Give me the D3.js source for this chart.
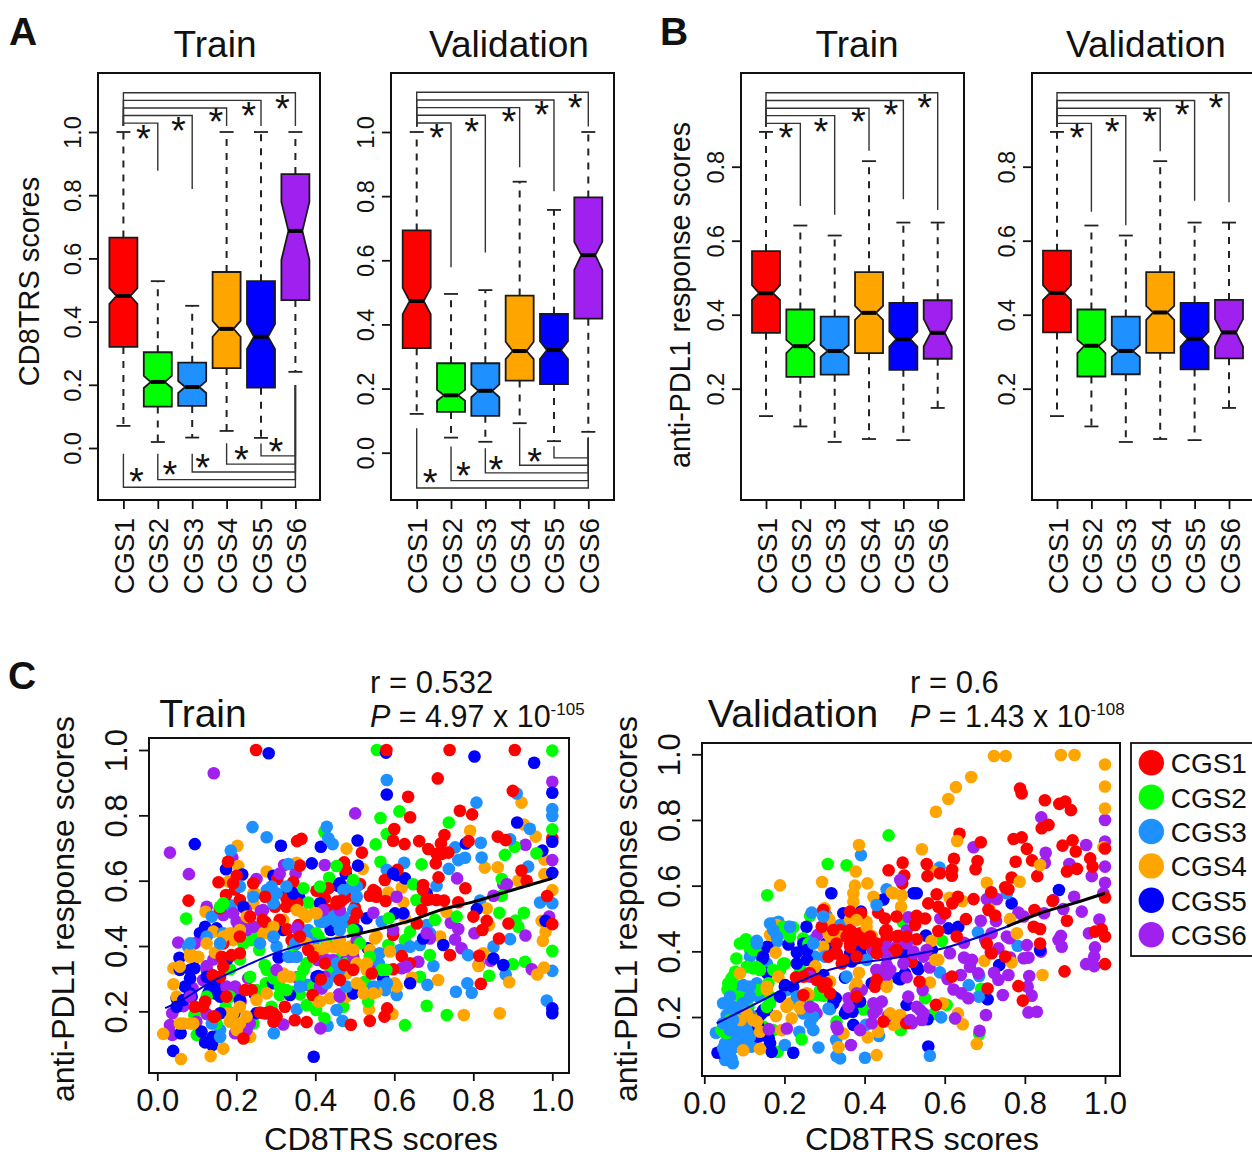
<!DOCTYPE html>
<html><head><meta charset="utf-8">
<script src="https://cdn.jsdelivr.net/npm/d3@7"></script>
<style>html,body{margin:0;padding:0;background:#fff;overflow:hidden}text{font-family:"Liberation Sans",Arial,sans-serif;fill:#111}</style>
</head><body><div id="chart"></div>
<script>
// ---------- data ----------
const categories=["CGS1","CGS2","CGS3","CGS4","CGS5","CGS6"];
const colors=["#FF0000","#00FF00","#1E90FF","#FFA500","#0000FF","#A020F0"];
// [whisker low, q1, notch low, median, notch high, q3, whisker high]
const boxATrain=[[.07,.32,.456,.481,.506,.666,1],[.019,.131,.19,.209,.228,.303,.528],[.033,.133,.174,.193,.212,.27,.45],[.054,.253,.352,.377,.402,.557,1],[.032,.191,.313,.352,.392,.528,1],[.241,.468,.595,.687,.779,.867,1]];
const boxAVal=[[.121,.326,.432,.473,.514,.693,1],[.047,.127,.162,.179,.196,.279,.495],[.034,.115,.173,.193,.213,.279,.507],[.092,.225,.292,.317,.346,.49,.845],[.036,.214,.292,.32,.348,.433,.757],[.065,.418,.57,.616,.658,.796,1]];
const boxBTrain=[[.126,.351,.44,.458,.48,.572,.894],[.098,.232,.296,.315,.332,.414,.641],[.056,.238,.286,.302,.318,.395,.614],[.064,.296,.386,.405,.424,.515,.815],[.061,.251,.314,.334,.354,.432,.649],[.148,.281,.314,.351,.388,.439,.649]];
const boxBVal=[[.126,.352,.44,.459,.48,.573,.894],[.098,.233,.296,.316,.332,.414,.641],[.056,.239,.286,.302,.318,.395,.614],[.064,.297,.386,.406,.424,.515,.815],[.061,.252,.314,.335,.354,.432,.649],[.148,.282,.314,.352,.388,.44,.649]];
// significance brackets: upper level and lower end per compared group
const topLevelsA=[1.028,1.052,1.076,1.1,1.124];
const topLevelsB=[.917,.938,.958,.979,1];
const topEndsATrain=[.877,.82,1.019,1.019,1.019];
const topEndsAVal=[.578,.624,.89,.815,1.017];
const topEndsBTrain=[.694,.67,.843,.712,.683];
const topEndsBVal=[.678,.642,.842,.708,.704];
const botLevelsATrain=[-.124,-.1,-.076,-.051,-.025];
const botStartsATrain=[-.018,-.018,-.018,.015,.014,.199];
const botLevelsAVal=[-.11,-.087,-.063,-.039,-.016];
const botStartsAVal=[.076,.019,.014,.078,.02,.047];
const starTopX=[1.58,2.6,3.69,4.64,5.62];
const starTopYATrain=[.994,1.019,1.046,1.067,1.089];
const starTopYAVal=[.996,1.015,1.047,1.069,1.09];
const starTopYB=[.89,.906,.934,.953,.971];
const starBotXATrain=[1.375,2.355,3.305,4.43,5.43];
const starBotYATrain=[-.091,-.071,-.048,-.022,.004];
const starBotXAVal=[1.39,2.36,3.31,4.44];
const starBotYAVal=[-.078,-.057,-.038,-.012];
const tickA=[0,.2,.4,.6,.8,1];
const tickB=[.2,.4,.6,.8];
const tickCx=[0,.2,.4,.6,.8,1];
const tickCy=[.2,.4,.6,.8,1];
const legendLabels=categories;

const trainCGS1=[[.25,1],[.58,1],[.74,1],[.905,1],[.71,.913],[.635,.857],[.9,.875],[1,.73],[.766,.814],[.797,.803],[.64,.794],[.6,.758],[.597,.722],[.626,.712],[.663,.721],[.686,.697],[.727,.74],[.718,.714],[.72,.682],[.737,.686],[.788,.721],[.862,.735],[.882,.724],[.365,.728],[.354,.721],[.518,.686],[.473,.656],[.477,.633],[.705,.653],[.712,.61],[.922,.631],[.935,.6],[.78,.577],[.576,.602],[.608,.633],[.513,.59],[.361,.646],[.344,.595],[.304,.605],[.281,.563],[.155,.595],[.179,.658],[.201,.615],[.197,.573],[.174,.556],[.079,.539],[.209,.541],[.158,.515],[.327,.546],[.298,.52],[.327,.52],[.354,.531],[.403,.569],[.433,.577],[.424,.546],[.454,.536],[.477,.549],[.433,.51],[.5,.518],[.496,.477],[.538,.554],[.553,.566],[.578,.538],[.673,.587],[.672,.573],[.69,.543],[.726,.539],[.762,.534],[.669,.51],[.657,.469],[.8,.49],[.834,.477],[.823,.449],[.889,.469],[.865,.423],[.815,.37],[.741,.372],[.819,.284],[1,.467],[.987,.553],[.597,.434],[.619,.369],[.64,.347],[.597,.329],[.31,.48],[.329,.451],[.357,.464],[.34,.418],[.273,.474],[.209,.378],[.167,.408],[.163,.367],[.167,.337],[.14,.311],[.382,.388],[.473,.342],[.414,.298],[.393,.25],[.543,.316],[.222,.265],[.26,.196],[.294,.194],[.323,.214],[.348,.173],[.378,.167],[.49,.159],[.538,.171],[.575,.184],[.582,.209],[.218,.117],[.294,.168],[.121,.23],[.095,.214],[.146,.184],[.175,.245],[.454,.529],[.467,.539],[.505,.5],[.547,.571],[.555,.551],[.188,.372],[.159,.306],[.239,.265],[.285,.199],[.302,.184],[.272,.194],[.116,.214],[.142,.184],[.209,.429],[.235,.49],[.267,.48],[.273,.551],[.243,.592],[.192,.592],[.682,.541],[.707,.541],[.707,.682],[.361,.429],[.395,.367],[.424,.347],[.462,.296],[.496,.327]];
const trainCGS2=[[.556,1],[1,.998],[.613,.812],[.565,.792],[.423,.75],[.581,.743],[.553,.711],[.738,.778],[.565,.658],[.669,.65],[1,.757],[.905,.704],[.88,.679],[.96,.684],[.872,.605],[.872,.554],[.866,.502],[.928,.502],[.914,.459],[.907,.478],[1,.385],[.931,.352],[.9,.344],[.84,.309],[.665,.306],[.682,.217],[.733,.189],[.627,.158],[.073,.484],[.053,.332],[.094,.189],[.1,.128],[.173,.214],[.209,.359],[.258,.388],[.184,.329],[.239,.418],[.247,.429],[.272,.342],[.275,.286],[.31,.25],[.34,.26],[.361,.252],[.378,.219],[.402,.204],[.423,.179],[.471,.214],[.37,.327],[.441,.324],[.467,.367],[.408,.429],[.382,.533],[.435,.609],[.454,.645],[.586,.485],[.585,.403],[.627,.418],[.69,.372],[.64,.444],[.703,.48],[.758,.49],[.648,.589],[.656,.541],[.526,.291],[.496,.255],[.568,.327],[.538,.367],[.534,.23],[.15,.163],[.243,.163],[.289,.214],[.167,.531],[.277,.327],[.294,.301],[.31,.276],[.327,.265],[.361,.306],[.395,.276],[.378,.347],[.344,.398],[.402,.439],[.429,.408],[.496,.449],[.479,.347],[.513,.408],[.58,.327],[.218,.408],[.235,.306],[.251,.265],[.184,.245],[.125,.245],[.159,.52],[.37,.577],[.412,.582],[.496,.602]];
const trainCGS3=[[.581,.908],[.808,.839],[1,.819],[1,.798],[.91,.867],[.943,.759],[.241,.764],[.277,.733],[.186,.692],[.429,.765],[.433,.73],[.444,.712],[.819,.716],[.754,.702],[.762,.663],[.779,.67],[.821,.671],[.738,.636],[.939,.643],[.893,.727],[.625,.655],[.581,.633],[.707,.584],[1,.531],[.969,.533],[.817,.539],[.893,.421],[.851,.398],[1,.324],[.882,.313],[.787,.372],[.699,.339],[.684,.281],[.785,.286],[.756,.26],[.796,.257],[.986,.233],[.295,.133],[.431,.156],[.469,.171],[.353,.206],[.159,.143],[.078,.398],[.138,.49],[.186,.525],[.289,.582],[.332,.651],[.505,.582],[.496,.551],[.42,.474],[.454,.474],[.479,.474],[.462,.449],[.568,.474],[.682,.464],[.69,.439],[.64,.398],[.665,.403],[.614,.388],[.563,.378],[.561,.347],[.378,.281],[.39,.281],[.454,.306],[.563,.276],[.606,.25],[.577,.265],[.302,.398],[.349,.367],[.382,.449],[.226,.459],[.285,.551],[.454,.204],[.167,.439],[.412,.474],[.429,.48],[.445,.49],[.471,.49],[.496,.51],[.505,.551],[.488,.582],[.471,.571],[.277,.571],[.302,.561],[.327,.582],[.294,.531],[.353,.367],[.332,.367],[.349,.408],[.378,.429],[.395,.408],[.462,.327],[.454,.347],[.429,.286],[.479,.276],[.547,.276],[.581,.286],[.361,.276],[.159,.408],[.125,.429],[.083,.408],[.159,.122],[.138,.163],[.26,.408],[.294,.429],[.243,.551],[.209,.582]];
const trainCGS4=[[.922,.839],[.928,.772],[.958,.735],[.792,.753],[.203,.707],[.479,.698],[.98,.665],[.98,.62],[.829,.64],[.862,.641],[.914,.6],[.52,.636],[.353,.655],[.277,.628],[.205,.645],[.18,.597],[.243,.561],[.243,.531],[.122,.505],[.37,.5],[.399,.505],[.585,.564],[.619,.579],[.623,.533],[.627,.485],[.732,.505],[.834,.515],[.973,.477],[1,.571],[.983,.444],[.976,.416],[.84,.464],[.716,.429],[.825,.378],[.813,.339],[.979,.334],[.962,.313],[.891,.289],[.644,.303],[.711,.296],[.776,.189],[.867,.194],[.595,.192],[.536,.206],[.538,.388],[.551,.423],[.462,.418],[.488,.398],[.496,.367],[.42,.388],[.445,.398],[.268,.439],[.285,.449],[.142,.444],[.175,.429],[.192,.418],[.083,.378],[.104,.367],[.146,.38],[.041,.332],[.041,.283],[.049,.245],[.057,.163],[.015,.131],[.06,.054],[.135,.063],[.167,.086],[.222,.163],[.235,.122],[.184,.168],[.175,.194],[.091,.163],[.408,.23],[.437,.24],[.479,.245],[.513,.276],[.555,.26],[.606,.276],[.601,.286],[.319,.316],[.479,.316],[.319,.48],[.53,.347],[.589,.383],[.455,.398],[.471,.388],[.496,.388],[.505,.347],[.479,.327],[.429,.398],[.403,.388],[.378,.408],[.53,.327],[.555,.429],[.184,.439],[.159,.408],[.167,.429],[.209,.449],[.247,.561],[.226,.49],[.281,.439],[.294,.459],[.125,.408],[.083,.367],[.057,.337],[.066,.163],[.083,.163],[.184,.173],[.209,.163],[.201,.143],[.226,.184],[.209,.214],[.192,.194],[.505,.286],[.522,.255],[.547,.255],[.412,.23],[.403,.5],[.378,.49],[.353,.51],[.319,.306],[.336,.306],[.277,.255],[.251,.235]];
const trainCGS5=[[.282,.99],[.579,.992],[.803,.98],[.954,.961],[1,.869],[.581,.864],[.911,.778],[.095,.712],[.313,.707],[.414,.704],[.507,.723],[1,.719],[.975,.692],[.781,.714],[.391,.653],[.508,.646],[1,.624],[.174,.635],[.215,.619],[.294,.615],[.477,.622],[.606,.617],[.627,.607],[.458,.584],[.327,.563],[.359,.551],[.418,.52],[.53,.485],[.809,.513],[.983,.477],[.15,.454],[.121,.459],[.108,.439],[.439,.449],[.602,.5],[.682,.561],[.724,.403],[.876,.342],[.851,.362],[1,.209],[1,.194],[.533,.393],[.307,.365],[.178,.361],[.056,.364],[.094,.332],[.083,.301],[.07,.276],[.049,.24],[.087,.245],[.142,.27],[.146,.255],[.159,.245],[.247,.252],[.195,.194],[.112,.138],[.14,.122],[.139,.097],[.121,.105],[.059,.133],[.04,.079],[.396,.061],[.408,.308],[.572,.301],[.64,.286],[.336,.25],[.293,.286],[.133,.265],[.15,.276],[.137,.286],[.066,.235],[.049,.214],[.083,.255],[.129,.255],[.159,.194],[.218,.52],[.294,.429],[.319,.449],[.344,.561],[.412,.531],[.462,.592],[.505,.449],[.623,.5],[.673,.423],[.597,.622],[.496,.255],[.403,.306],[.277,.194],[.251,.194],[.209,.235],[.125,.306],[.083,.327],[.057,.327]];
const trainCGS6=[[.143,.929],[1,.903],[.501,.806],[.032,.686],[.08,.62],[.932,.71],[1,.663],[.19,.67],[.251,.605],[.321,.648],[.35,.622],[.424,.648],[.759,.607],[.876,.589],[.885,.589],[.851,.554],[.125,.52],[.167,.495],[.224,.512],[.262,.507],[.201,.474],[.201,.442],[.251,.449],[.992,.49],[.743,.471],[.762,.452],[.803,.439],[.754,.42],[.77,.393],[.932,.432],[.844,.355],[.814,.342],[.948,.329],[.053,.411],[.095,.408],[.121,.418],[.142,.359],[.125,.339],[.089,.272],[.066,.216],[.038,.194],[.032,.158],[.038,.128],[.125,.192],[.099,.168],[.182,.245],[.197,.276],[.211,.23],[.23,.301],[.302,.306],[.353,.304],[.406,.357],[.424,.306],[.416,.27],[.46,.252],[.619,.332],[.661,.352],[.319,.16],[.413,.148],[.197,.133],[.361,.439],[.458,.51],[.547,.502],[.69,.423],[.538,.327],[.336,.367],[.445,.357],[.606,.551],[.505,.418],[.125,.327],[.116,.296],[.175,.276],[.209,.255],[.083,.245],[.192,.5],[.226,.449],[.243,.459],[.209,.469],[.268,.51],[.31,.622],[.353,.408],[.429,.357],[.479,.357],[.471,.337],[.496,.367],[.597,.449],[.631,.337],[.682,.439],[.42,.51],[.462,.51],[.353,.454],[.302,.327],[.412,.276],[.462,.245],[.234,.163],[.226,.143]];
const valCGS1=[[.788,.896],[.792,.881],[.85,.86],[.886,.849],[.901,.856],[.915,.83],[.859,.785],[.842,.775],[.637,.758],[.69,.732],[.772,.742],[.792,.747],[.894,.722],[.919,.738],[.927,.704],[1,.713],[.805,.712],[.818,.677],[.777,.673],[.963,.683],[.969,.658],[.905,.643],[.93,.651],[.831,.629],[.767,.625],[.623,.682],[.682,.675],[.677,.65],[.495,.67],[.46,.647],[.499,.631],[.494,.607],[.555,.666],[.557,.629],[.588,.638],[.618,.63],[.618,.648],[.751,.595],[.759,.589],[.716,.58],[.58,.574],[.633,.566],[.672,.559],[.709,.526],[.726,.509],[.619,.546],[.559,.546],[.584,.536],[.601,.516],[.653,.498],[1,.564],[.869,.554],[.824,.526],[.905,.493],[.822,.475],[.838,.468],[.992,.467],[.975,.46],[1,.445],[.838,.424],[1,.361],[.899,.339],[.784,.294],[.795,.25],[.707,.287],[.717,.394],[.751,.384],[.705,.424],[.584,.462],[.63,.445],[.53,.437],[.484,.447],[.455,.44],[.434,.518],[.451,.5],[.48,.506],[.53,.508],[.551,.5],[.526,.48],[.451,.46],[.364,.521],[.391,.516],[.364,.465],[.389,.455],[.364,.414],[.297,.526],[.293,.475],[.339,.465],[.326,.394],[.343,.363],[.31,.384],[.229,.321],[.264,.333],[.297,.303],[.426,.292],[.43,.343],[.401,.424],[.474,.399],[.518,.368],[.537,.308],[.447,.186],[.504,.181],[.578,.237],[.247,.267],[.305,.303],[.618,.323],[.33,.394],[.347,.374],[.364,.424],[.38,.435],[.355,.445],[.414,.445],[.43,.424],[.38,.384],[.43,.394],[.48,.404],[.33,.424],[.322,.465],[.455,.465],[.505,.445],[.48,.445],[.297,.292],[.28,.313],[.247,.323],[.43,.313],[.314,.272],[.38,.262]];
const valCGS2=[[.46,.753],[.308,.666],[.355,.662],[.157,.571],[.264,.508],[.104,.437],[.114,.404],[.135,.402],[.08,.378],[.222,.473],[.197,.455],[.247,.44],[.256,.409],[.122,.348],[.077,.338],[.068,.318],[.058,.284],[.201,.363],[.239,.348],[.164,.242],[.285,.267],[.297,.265],[.397,.223],[.691,.286],[.551,.257],[.605,.237],[.572,.209],[.49,.16],[.686,.148],[.626,.196],[.183,.094],[.243,.132],[.047,.155],[.064,.191],[.089,.262],[.081,.221],[.11,.231],[.16,.303],[.495,.49],[.593,.432],[.33,.186],[.147,.171],[.172,.16],[.093,.12],[.135,.282],[.139,.343],[.089,.424],[.122,.404],[.072,.323],[.106,.353],[.131,.353],[.068,.272],[.06,.303],[.072,.303],[.056,.15],[.043,.16],[.106,.181],[.197,.363],[.189,.343],[.172,.343],[.164,.262],[.264,.262],[.289,.282],[.156,.231],[.197,.475],[.26,.424],[.214,.445]];
const valCGS3=[[.391,.693],[.587,.655],[.455,.589],[.755,.577],[.43,.556],[.268,.518],[.304,.511],[.339,.48],[.171,.485],[.185,.49],[.21,.475],[.131,.432],[.181,.43],[.683,.458],[.782,.417],[.114,.384],[.156,.363],[.272,.434],[.276,.384],[.131,.303],[.089,.287],[.072,.272],[.056,.242],[.11,.292],[.135,.262],[.056,.206],[.206,.282],[.247,.211],[.314,.224],[.272,.16],[.237,.155],[.029,.152],[.052,.12],[.072,.14],[.093,.155],[.081,.11],[.064,.094],[.052,.069],[.071,.059],[.106,.135],[.118,.11],[.201,.115],[.285,.107],[.329,.13],[.339,.074],[.33,.081],[.401,.076],[.563,.082],[.436,.142],[.403,.176],[.591,.199],[.685,.262],[.66,.297],[.686,.325],[.588,.336],[.497,.445],[.389,.414],[.405,.374],[.355,.323],[.047,.242],[.064,.262],[.097,.297],[.114,.292],[.072,.231],[.097,.242],[.114,.262],[.047,.181],[.064,.16],[.081,.16],[.097,.171],[.11,.16],[.114,.14],[.047,.105],[.064,.115],[.081,.13],[.089,.11],[.052,.089],[.068,.074],[.089,.135],[.106,.115],[.072,.191],[.089,.226],[.114,.206],[.164,.485],[.172,.465],[.214,.475],[.131,.424],[.181,.445],[.297,.506],[.272,.424],[.301,.384],[.43,.541],[.231,.262],[.239,.242],[.264,.181],[.272,.201],[.31,.226]];
const valCGS4=[[.723,.995],[.752,.995],[.89,.998],[.924,.998],[1,.969],[1,.902],[1,.835],[.666,.931],[.628,.9],[.609,.864],[.578,.825],[.631,.736],[.996,.717],[.543,.711],[.386,.724],[.378,.643],[.294,.611],[.407,.607],[.376,.6],[.372,.577],[.372,.551],[.189,.601],[.422,.566],[.468,.579],[.493,.57],[.491,.536],[.705,.609],[.787,.612],[.838,.663],[.57,.644],[.619,.648],[.612,.563],[.644,.553],[.711,.531],[.763,.498],[.78,.455],[.699,.371],[.767,.366],[.844,.328],[.584,.374],[.567,.432],[.563,.305],[.595,.242],[.633,.211],[.645,.178],[.68,.118],[.489,.206],[.472,.176],[.434,.155],[.408,.138],[.43,.084],[.335,.108],[.347,.15],[.418,.447],[.364,.497],[.405,.49],[.3,.531],[.312,.497],[.31,.455],[.181,.48],[.164,.45],[.178,.396],[.089,.333],[.185,.323],[.156,.284],[.251,.323],[.277,.355],[.303,.384],[.386,.335],[.376,.29],[.455,.308],[.21,.237],[.26,.269],[.24,.226],[.218,.196],[.179,.203],[.118,.201],[.091,.191],[.139,.155],[.193,.16],[.139,.103],[.097,.099],[.314,.308],[.156,.292],[.214,.242],[.205,.231],[.256,.272],[.272,.343],[.297,.414],[.314,.445],[.339,.445],[.405,.475],[.38,.495],[.464,.211],[.48,.181],[.131,.186],[.106,.211],[.122,.191],[.239,.231],[.38,.303],[.455,.292],[.472,.577],[.576,.374]];
const valCGS5=[[.885,.587],[.767,.546],[.522,.577],[.53,.577],[.317,.577],[.447,.558],[.391,.521],[.347,.516],[.255,.475],[.609,.47],[.634,.475],[.553,.448],[.376,.45],[.157,.414],[.21,.421],[.255,.424],[.305,.424],[.231,.396],[.256,.374],[.145,.377],[.157,.333],[.201,.292],[.297,.328],[.351,.32],[.368,.369],[.393,.384],[.497,.394],[.568,.404],[.501,.333],[.489,.315],[.534,.345],[.418,.303],[.328,.257],[.389,.247],[.37,.216],[.351,.211],[.372,.176],[.505,.237],[.557,.193],[.559,.11],[.736,.358],[.838,.404],[.707,.254],[.143,.211],[.156,.221],[.135,.14],[.161,.135],[.168,.094],[.222,.091],[.033,.091],[.147,.221],[.139,.206],[.247,.424],[.305,.404],[.33,.394],[.364,.394],[.389,.404],[.372,.455],[.484,.318],[.53,.353],[.322,.262],[.355,.221],[.372,.242],[.322,.242],[.202,.297],[.222,.292],[.189,.262],[.256,.404],[.231,.363],[.147,.384],[.164,.12],[.135,.171]];
const valCGS6=[[1,.8],[1,.734],[.841,.808],[.672,.717],[.852,.7],[.85,.67],[.953,.724],[.911,.666],[1,.658],[.967,.629],[1,.609],[.996,.577],[.923,.566],[.871,.556],[.896,.529],[.942,.521],[.848,.516],[.797,.506],[.784,.518],[.986,.497],[.96,.455],[.89,.447],[.884,.435],[.892,.414],[.975,.412],[.973,.384],[.953,.361],[.973,.355],[.84,.399],[.805,.419],[.809,.381],[.797,.379],[.763,.381],[.762,.44],[.755,.445],[.73,.559],[.705,.559],[.728,.492],[.69,.493],[.589,.5],[.509,.504],[.42,.404],[.331,.445],[.283,.45],[.505,.463],[.489,.617],[.648,.426],[.701,.435],[.717,.455],[.715,.397],[.734,.409],[.648,.381],[.668,.374],[.663,.353],[.64,.328],[.684,.333],[.607,.316],[.723,.335],[.734,.313],[.759,.328],[.811,.325],[.807,.292],[.817,.265],[.745,.267],[.703,.206],[.809,.214],[.83,.216],[.687,.158],[.622,.284],[.642,.272],[.659,.257],[.626,.196],[.545,.282],[.562,.351],[.522,.399],[.455,.358],[.455,.328],[.505,.321],[.539,.221],[.543,.191],[.518,.181],[.443,.247],[.422,.211],[.458,.203],[.389,.16],[.333,.163],[.366,.115],[.36,.257],[.393,.282],[.26,.333],[.272,.226],[.28,.211],[.161,.163],[.206,.165],[.509,.262],[.43,.414],[.455,.414],[.48,.414],[.505,.424],[.455,.384],[.43,.343],[.464,.343],[.497,.363],[.522,.394],[.547,.384],[.555,.404],[.613,.394],[.38,.272],[.36,.231],[.422,.242],[.43,.221],[.418,.181],[.264,.323],[.264,.231],[.33,.171],[.53,.231],[.547,.211],[.514,.191]];
const trainFitBlue=[[.02,.21],[.066,.237],[.137,.29],[.226,.341],[.307,.382],[.378,.408],[.479,.429]];
const trainFitBlack=[[.479,.429],[.631,.474],[.716,.51],[.8,.535],[.884,.566],[1,.607]];
const valFitBlue=[[.031,.181],[.131,.242],[.21,.292],[.297,.338],[.38,.363],[.497,.384],[.613,.415],[.755,.475]];
const valFitBlack=[[.755,.475],[.838,.516],[.921,.546],[1,.577]];

// ---------- drawing ----------
const W=1252,H=1157;
const svg=d3.select("#chart").append("svg").attr("width",W).attr("height",H).style("display","block");
const FRAME="#111";
function label(x,y,t,size,opt={}){
  const e=svg.append("text").attr("x",x).attr("y",y).text(t).style("font-size",size+"px")
    .attr("text-anchor",opt.anchor||"middle").style("font-weight",opt.weight||"normal");
  if(opt.rot) e.attr("transform",`rotate(-90 ${x} ${y})`);
  if(opt.len) e.attr("textLength",opt.len).attr("lengthAdjust","spacingAndGlyphs");
  return e;
}
const pathLine=d3.line();
function boxPanel(p){
  const g=svg.append("g");
  const x=d3.scaleLinear().domain([1,6]).range([p.x1,p.x6]);
  const y=d3.scaleLinear().domain([0,p.yRef]).range([p.y0,p.yR]);
  g.append("rect").attr("x",p.l).attr("y",p.t).attr("width",p.r-p.l).attr("height",p.b-p.t).attr("fill","#fff").attr("stroke",FRAME).attr("stroke-width",2);
  const ax=g.append("g").attr("transform",`translate(${p.l},0)`).call(d3.axisLeft(y).tickValues(p.ticks).tickSize(9).tickFormat(d3.format(".1f")));
  ax.select(".domain").remove();ax.selectAll("line").attr("stroke",FRAME).attr("stroke-width",1.8);
  ax.selectAll("text").attr("x",0).attr("y",0).attr("dy",0).attr("transform",`translate(-17,0) rotate(-90)`).attr("text-anchor","middle").style("font-size","23.5px").style("font-family",null);
  const bx=g.append("g").attr("transform",`translate(0,${p.b})`).call(d3.axisBottom(x).tickValues([1,2,3,4,5,6]).tickSize(9).tickFormat(i=>categories[i-1]));
  bx.select(".domain").remove();bx.selectAll("line").attr("stroke",FRAME).attr("stroke-width",1.8);
  bx.selectAll("text").attr("x",0).attr("y",0).attr("dy",0).attr("transform",`translate(10,18) rotate(-90)`).attr("text-anchor","end").style("font-size","28px").style("font-family",null);
  // boxes
  const hw=14,nw=7,capw=7;
  const b=g.selectAll(".b").data(p.box).join("g");
  b.each(function(d,i){
    const s=d3.select(this),cx=x(i+1);
    const [wl,q1,nl,m,nh,q3,wh]=d;
    [[q1,wl],[q3,wh]].forEach(([a,c])=>s.append("line").attr("x1",cx).attr("x2",cx).attr("y1",y(a)).attr("y2",y(c)).attr("stroke","#222").attr("stroke-width",2).attr("stroke-dasharray","7,7"));
    [wl,wh].forEach(v=>s.append("line").attr("x1",cx-capw).attr("x2",cx+capw).attr("y1",y(v)).attr("y2",y(v)).attr("stroke","#222").attr("stroke-width",1.8));
    s.append("path").attr("d",pathLine([[cx-hw,y(q1)],[cx-hw,y(nl)],[cx-nw,y(m)],[cx-hw,y(nh)],[cx-hw,y(q3)],[cx+hw,y(q3)],[cx+hw,y(nh)],[cx+nw,y(m)],[cx+hw,y(nl)],[cx+hw,y(q1)]])+"Z").attr("fill",colors[i]).attr("stroke","#1a1a1a").attr("stroke-width",1.8);
    s.append("line").attr("x1",cx-nw).attr("x2",cx+nw).attr("y1",y(m)).attr("y2",y(m)).attr("stroke","#000").attr("stroke-width",4);
  });
  // top brackets
  p.topEnds.forEach((e,k)=>{
    g.append("path").attr("d",pathLine([[x(1),y(p.topStart)],[x(1),y(p.topLevels[k])],[x(k+2),y(p.topLevels[k])],[x(k+2),y(e)]])).attr("fill","none").attr("stroke","#333").attr("stroke-width",1.4);
  });
  p.starTopY.forEach((v,k)=>star(g,x(starTopX[k]),y(v)));
  if(p.botLevels){
    p.botLevels.forEach((l,k)=>{
      g.append("path").attr("d",pathLine([[x(k+1),y(p.botStarts[k])],[x(k+1),y(l)],[x(6),y(l)],[x(6),y(p.botStarts[5])]])).attr("fill","none").attr("stroke","#333").attr("stroke-width",1.4);
    });
    p.starBotX.forEach((v,k)=>star(g,x(v),y(p.starBotY[k])));
  }
}
function star(g,cx,cy){
  g.append("text").attr("x",cx).attr("y",cy+18).attr("text-anchor","middle").style("font-size","38px").text("*");
}
boxPanel({l:98,r:320,t:73,b:500,x1:123.4,x6:295.4,y0:448,yR:132,yRef:1,ticks:tickA,box:boxATrain,topLevels:topLevelsA,topEnds:topEndsATrain,topStart:1.019,starTopY:starTopYATrain,botLevels:botLevelsATrain,botStarts:botStartsATrain,starBotX:starBotXATrain,starBotY:starBotYATrain});
boxPanel({l:391,r:614,t:73,b:500,x1:416.7,x6:588.3,y0:452.7,yR:132,yRef:1,ticks:tickA,box:boxAVal,topLevels:topLevelsA,topEnds:topEndsAVal,topStart:1.017,starTopY:starTopYAVal,botLevels:botLevelsAVal,botStarts:botStartsAVal,starBotX:starBotXAVal,starBotY:starBotYAVal});
boxPanel({l:741,r:964,t:73,b:500,x1:766,x6:937.7,y0:462.7,yR:92.7,yRef:1,ticks:tickB,box:boxBTrain,topLevels:topLevelsB,topEnds:topEndsBTrain,topStart:.908,starTopY:starTopYB});
boxPanel({l:1032,r:1255,t:73,b:500,x1:1057,x6:1229,y0:462.7,yR:92.7,yRef:1,ticks:tickB,box:boxBVal,topLevels:topLevelsB,topEnds:topEndsBVal,topStart:.908,starTopY:starTopYB});

function scatterPanel(p){
  const g=svg.append("g");
  const x=d3.scaleLinear().domain([0,1]).range([p.x0,p.x1]);
  const y=d3.scaleLinear().domain([0,1]).range([p.y0,p.y1]);
  g.append("rect").attr("x",p.l).attr("y",p.t).attr("width",p.r-p.l).attr("height",p.b-p.t).attr("fill","#fff").attr("stroke",FRAME).attr("stroke-width",2);
  const ax=g.append("g").attr("transform",`translate(${p.l},0)`).call(d3.axisLeft(y).tickValues(tickCy).tickSize(10).tickFormat(d3.format(".1f")));
  ax.select(".domain").remove();ax.selectAll("line").attr("stroke",FRAME).attr("stroke-width",1.8);
  ax.selectAll("text").attr("x",0).attr("y",0).attr("dy",0).attr("transform",`translate(-22,0) rotate(-90)`).attr("text-anchor","middle").style("font-size","31px").style("font-family",null);
  const bx=g.append("g").attr("transform",`translate(0,${p.b})`).call(d3.axisBottom(x).tickValues(tickCx).tickSize(8).tickFormat(d3.format(".1f")));
  bx.select(".domain").remove();bx.selectAll("line").attr("stroke",FRAME).attr("stroke-width",1.8);
  bx.selectAll("text").attr("x",0).attr("y",38).attr("dy",0).attr("text-anchor","middle").style("font-size","31px").style("font-family",null);
  // interleave groups so the overplotting is mixed, as in the source
  const maxN=d3.max(p.series,s=>s.length);
  const pts=[];
  for(let i=0;i<maxN;i++)p.order.forEach(c=>{if(i<p.series[c].length)pts.push({c,v:p.series[c][i]});});
  g.selectAll("circle").data(pts).join("circle").attr("cx",d=>x(d.v[0])).attr("cy",d=>y(d.v[1])).attr("r",6.3).attr("fill",d=>colors[d.c]);
  const ln=d3.line().x(d=>x(d[0])).y(d=>y(d[1])).curve(d3.curveCatmullRom);
  g.append("path").attr("d",ln(p.fitBlack)).attr("fill","none").attr("stroke","#000").attr("stroke-width",3);
  g.append("path").attr("d",ln(p.fitBlue)).attr("fill","none").attr("stroke","#0000CC").attr("stroke-width",2);
}
scatterPanel({l:149,r:569,t:738,b:1073,x0:157.3,x1:552.3,y0:1076.7,y1:750,order:[1,2,3,4,5,0],series:[trainCGS1,trainCGS2,trainCGS3,trainCGS4,trainCGS5,trainCGS6],fitBlue:trainFitBlue,fitBlack:trainFitBlack});
scatterPanel({l:702,r:1120,t:743,b:1076,x0:704.3,x1:1105,y0:1082.7,y1:754.3,order:[1,2,0,3,4,5],series:[valCGS1,valCGS2,valCGS3,valCGS4,valCGS5,valCGS6],fitBlue:valFitBlue,fitBlack:valFitBlack});

// titles and labels
label(215,57,"Train",37);label(509,57,"Validation",37);label(857,57,"Train",37);label(1146,57,"Validation",37);
label(39,281.5,"CD8TRS scores",29,{rot:true});
label(690,295,"anti-PDL1 response scores",28.7,{rot:true});
label(9,45,"A",39,{anchor:"start",weight:"bold"});
label(660,45,"B",39,{anchor:"start",weight:"bold"});
label(8,689,"C",39,{anchor:"start",weight:"bold"});
label(74,909,"anti-PDL1 response scores",32,{rot:true});
label(637,909,"anti-PDL1 response scores",32,{rot:true});
label(381,1150,"CD8TRS scores",31,{len:234});
label(922,1150,"CD8TRS scores",31,{len:234});
label(203,727,"Train",39);
label(793,727,"Validation",39.5);
label(370,693,"r = 0.532",31,{anchor:"start"});
label(910,693,"r = 0.6",31,{anchor:"start"});
function pText(xp,yp,val,exp){
  const t=svg.append("text").attr("x",xp).attr("y",yp).style("font-size","30.5px");
  t.append("tspan").style("font-style","italic").text("P");
  t.append("tspan").text(" = "+val+" x 10");
  t.append("tspan").attr("dy",-12).style("font-size","17px").text(exp);
}
pText(370,727,"4.97","-105");
pText(910,727,"1.43","-108");

// legend
svg.append("rect").attr("x",1131).attr("y",743).attr("width",140).attr("height",213).attr("fill","#fff").attr("stroke",FRAME).attr("stroke-width",1.8);
const ly=d3.scalePoint().domain(legendLabels).range([762.7,934.7]);
svg.selectAll(".lc").data(legendLabels).join("circle").attr("cx",1151.3).attr("cy",d=>ly(d)).attr("r",12.7).attr("fill",(d,i)=>colors[i]);
svg.selectAll(".lt").data(legendLabels).join("text").attr("x",1170.7).attr("y",d=>ly(d)+10.5).style("font-size","28px").text(d=>d);
</script></body></html>
